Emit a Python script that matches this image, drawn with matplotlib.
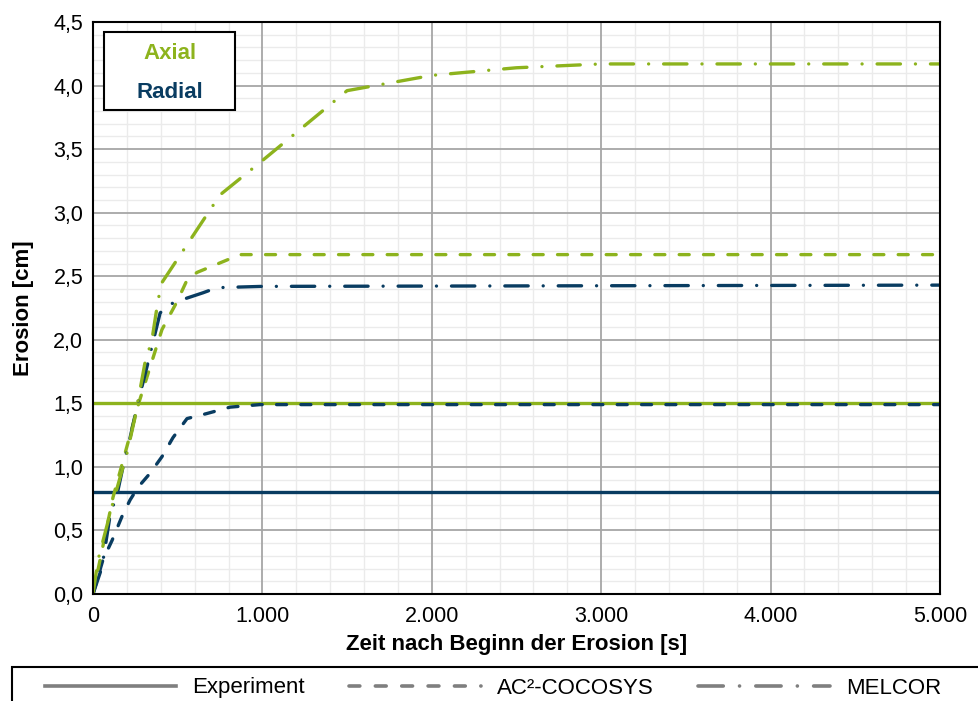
import matplotlib
matplotlib.use("Agg")
import matplotlib.pyplot as plt
from matplotlib.lines import Line2D
from matplotlib.patches import Rectangle
from matplotlib.ticker import MultipleLocator, FuncFormatter

plt.rcParams['font.family'] = ['Liberation Sans', 'DejaVu Sans']

# --- data -------------------------------------------------------------
axial_exp = 1.5
radial_exp = 0.8

axial_ac2_t = [0, 118, 272, 407, 496, 555, 614, 868, 1000, 5000]
axial_ac2_v = [0, 0.76, 1.51, 2.08, 2.30, 2.47, 2.53, 2.67, 2.67, 2.67]

axial_mel_t = [0, 30, 118, 201, 248, 307, 348, 384, 407, 561, 750, 1000,
               1500, 2000, 2500, 3000, 5000]
axial_mel_v = [0, 0.27, 0.72, 1.11, 1.39, 1.82, 2.00, 2.31, 2.45, 2.76, 3.14,
               3.41, 3.96, 4.08, 4.14, 4.17, 4.17]

radial_ac2_t = [0, 59, 112, 171, 219, 266, 337, 407, 472, 555, 673, 809,
                986, 5000]
radial_ac2_v = [0, 0.27, 0.42, 0.61, 0.74, 0.84, 0.95, 1.08, 1.23, 1.38,
                1.42, 1.47, 1.49, 1.49]

radial_mel_t = [0, 53, 100, 148, 177, 219, 266, 319, 396, 437, 514, 650,
                732, 1000, 5000]
radial_mel_v = [0, 0.21, 0.61, 0.82, 1.00, 1.23, 1.51, 1.79, 2.21, 2.27,
                2.31, 2.37, 2.41, 2.42, 2.43]

legend_labels = ["Experiment", "AC²-COCOSYS", "MELCOR"]
box_labels = ["Axial", "Radial"]

# --- styles -----------------------------------------------------------
GREEN = "#8DB31D"
BLUE = "#093C61"
GRAY = "#7F7F7F"
LW = 2.4
DASHED = (0, (3.0, 4.3))
DASHDOT = (0, (7.0, 4.5, 0.01, 4.5))

fig = plt.figure(figsize=(9.79, 7.01), dpi=100)
ax = fig.add_axes([93 / 979, 1 - 594 / 701, (940 - 93) / 979, (594 - 22) / 701])

ax.axhline(axial_exp, color=GREEN, lw=LW, solid_capstyle='butt', zorder=3)
ax.axhline(radial_exp, color=BLUE, lw=LW, solid_capstyle='butt', zorder=3)

ax.plot(radial_ac2_t, radial_ac2_v, color=BLUE, lw=LW, ls=DASHED,
        dash_capstyle='round', zorder=4)
ax.plot(axial_ac2_t, axial_ac2_v, color=GREEN, lw=LW, ls=DASHED,
        dash_capstyle='round', zorder=4)
ax.plot(radial_mel_t, radial_mel_v, color=BLUE, lw=LW, ls=DASHDOT,
        dash_capstyle='round', zorder=5)
ax.plot(axial_mel_t, axial_mel_v, color=GREEN, lw=LW, ls=DASHDOT,
        dash_capstyle='round', zorder=5)

ax.set_xlim(0, 5000)
ax.set_ylim(0, 4.5)
ax.xaxis.set_major_locator(MultipleLocator(1000))
ax.xaxis.set_minor_locator(MultipleLocator(200))
ax.yaxis.set_major_locator(MultipleLocator(0.5))
ax.yaxis.set_minor_locator(MultipleLocator(0.1))
ax.xaxis.set_major_formatter(FuncFormatter(lambda v, p: f"{int(round(v)):,}".replace(",", ".")))
ax.yaxis.set_major_formatter(FuncFormatter(lambda v, p: f"{v:.1f}".replace(".", ",")))

# light minor grid from the axis, major grid drawn on top of it
ax.grid(which='minor', color='#EBEBEB', lw=1.0)
ax.set_axisbelow(True)
for xv in ax.get_xticks():
    if 0 < xv <= 5000:
        ax.axvline(xv, color='#A6A6A6', lw=1.3, zorder=1)
for yv in ax.get_yticks():
    if 0 < yv <= 4.5:
        ax.axhline(yv, color='#A6A6A6', lw=1.3, zorder=1)

ax.tick_params(which='both', length=0)
ax.tick_params(axis='x', labelsize=15.5, pad=9)
ax.tick_params(axis='y', labelsize=15.5, pad=7)
for s in ax.spines.values():
    s.set_color('black')
    s.set_linewidth(1.5)
    s.set_zorder(6)

ax.set_xlabel("Zeit nach Beginn der Erosion [s]", fontsize=16, fontweight='bold',
              labelpad=5)
ax.set_ylabel("Erosion [cm]", fontsize=16, fontweight='bold', labelpad=14)

# Label box for the two erosion directions
ax.add_patch(Rectangle((0.013, 0.846), 0.155, 0.1365, transform=ax.transAxes,
                       facecolor='white', edgecolor='black', lw=1.5, zorder=7))
ax.text(0.0905, 0.945, box_labels[0], transform=ax.transAxes, color=GREEN,
        fontsize=16, fontweight='bold', ha='center', va='center', zorder=8)
ax.text(0.0905, 0.877, box_labels[1], transform=ax.transAxes, color=BLUE,
        fontsize=16, fontweight='bold', ha='center', va='center', zorder=8)

# Legend below the plot
handles = [
    Line2D([], [], color=GRAY, lw=2.6),
    Line2D([], [], color=GRAY, lw=2.6, ls=DASHED, dash_capstyle='round'),
    Line2D([], [], color=GRAY, lw=2.6, ls=DASHDOT, dash_capstyle='round'),
]
fig.legend(handles, legend_labels, loc='center',
           bbox_to_anchor=(493 / 979, 1 - 688 / 701), ncol=3, frameon=False,
           fontsize=16, handlelength=5.9, handletextpad=0.75,
           columnspacing=2.0)
fig.patches.append(Rectangle((12 / 979, -0.05), 1.0, 0.05 + (701 - 667) / 701,
                             transform=fig.transFigure, facecolor='none',
                             edgecolor='black', lw=1.5))

fig.savefig("out.png", dpi=100)
